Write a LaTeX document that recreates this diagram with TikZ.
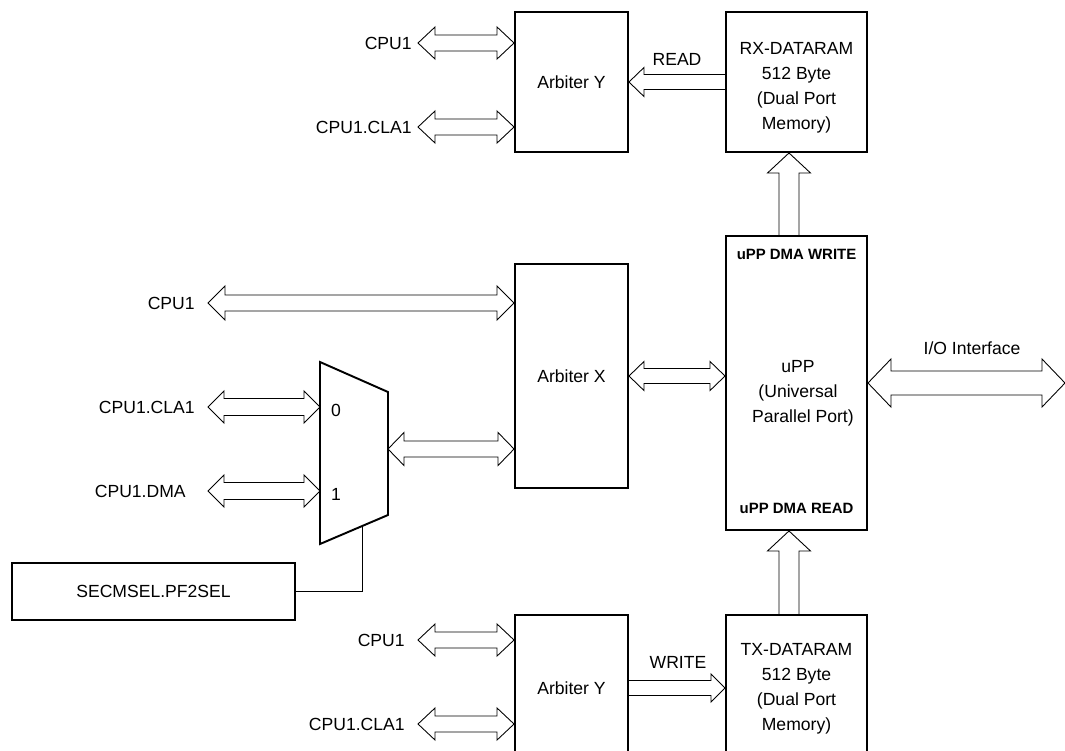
\documentclass[tikz,border=0pt]{standalone}
\usepackage{fontspec}
\setmainfont{Liberation Sans}
\usetikzlibrary{positioning,calc}
% hollow bus arrows: #1 from, #2 to, #3 half shaft, #4 half head, #5 head length
\newcommand{\bidir}[5]{\draw[fat] let \p1=(#1), \p2=(#2) in (\x1,\y1) -- ({\x1+#5},{\y1+#4}) -- ({\x1+#5},{\y1+#3}) -- ({\x2-#5},{\y1+#3}) -- ({\x2-#5},{\y1+#4}) -- (\x2,\y1) -- ({\x2-#5},{\y1-#4}) -- ({\x2-#5},{\y1-#3}) -- ({\x1+#5},{\y1-#3}) -- ({\x1+#5},{\y1-#4}) -- cycle;}
\newcommand{\onedir}[5]{\draw[fat] let \p1=(#1), \p2=(#2), \n1={ifthenelse(\x2>\x1,1,-1)} in (\x1,{\y1+#3}) -- ({\x2-(\n1)*(#5)},{\y1+#3}) -- ({\x2-(\n1)*(#5)},{\y1+#4}) -- (\x2,\y1) -- ({\x2-(\n1)*(#5)},{\y1-#4}) -- ({\x2-(\n1)*(#5)},{\y1-#3}) -- (\x1,{\y1-#3});}
\newcommand{\updir}[5]{\draw[fat] let \p1=(#1), \p2=(#2) in ({\x1-#3},\y1) -- ({\x1-#3},{\y2-#5}) -- ({\x1-#4},{\y2-#5}) -- (\x1,\y2) -- ({\x1+#4},{\y2-#5}) -- ({\x1+#3},{\y2-#5}) -- ({\x1+#3},\y1);}

\begin{document}
\begin{tikzpicture}[
  box/.style={draw,line width=1.1pt,align=center,inner sep=0pt,minimum width=2.26cm,font=\fontsize{10}{14.3}\selectfont},
  lbl/.style={inner sep=0pt,font=\fontsize{10}{14.3}\selectfont},
  dmalbl/.style={inner sep=0pt,font=\fontsize{8.5}{10}\selectfont\bfseries},
  fat/.style={draw,line width=.5pt,line join=miter}]
\useasboundingbox (0,0) rectangle (21.3,-15);
\clip (0,0) rectangle (21.3,-15);
% blocks
\node[box,minimum height=2.8cm] (arbYt) at (11.43,-1.64) {Arbiter Y};
\node[box,minimum width=2.82cm,minimum height=2.8cm] (rx) at (15.93,-1.64) {};
\node[lbl,align=center] (rxtxt) at (15.93,-1.76) {RX-DATARAM\\512 Byte\\(Dual Port\\Memory)};
\node[box,minimum width=2.82cm,minimum height=5.88cm] (upp) at (15.93,-7.66) {};
\node[lbl,align=center] (upptxt) at (15.96,-7.86) {uPP\\(Universal\\\ \ Parallel Port)};
\node[dmalbl,below=0.28cm of upp.north] (uppw) {uPP DMA WRITE};
\node[dmalbl,above=0.34cm of upp.south] (uppr) {uPP DMA READ};
\node[box,minimum height=4.48cm] (arbX) at (11.43,-7.52) {Arbiter X};
\node[box,minimum height=2.92cm] (arbYb) at (11.43,-13.76) {Arbiter Y};
\node[box,minimum width=2.82cm,minimum height=2.96cm] (tx) at (15.93,-13.78) {TX-DATARAM\\512 Byte\\(Dual Port\\Memory)};
\node[box,minimum width=5.66cm,minimum height=1.14cm] (sel) at (3.07,-11.83) {SECMSEL.PF2SEL};
% mux
\draw[line width=1.1pt] (6.4,-7.24) -- (7.76,-7.84) -- (7.76,-10.3) -- (6.4,-10.88) -- cycle;
\coordinate (mux0) at (6.4,-8.14);
\coordinate (mux1) at (6.4,-9.82);
\coordinate (muxout) at (7.76,-8.98);
\coordinate (muxsel) at (7.24,-10.52);
\node[lbl] (n0) at (6.72,-8.2) {0};
\node[lbl] (n1) at (6.72,-9.88) {1};
\draw[line width=.5pt] (muxsel) |- (sel.east);
% free ends
\coordinate (cpu1t) at (8.36,-0.86);
\coordinate (clat) at (8.36,-2.54);
\coordinate (cpu1x) at (4.16,-6.06);
\coordinate (clax) at (4.16,-8.14);
\coordinate (dmax) at (4.16,-9.82);
\coordinate (cpu1b) at (8.36,-12.8);
\coordinate (clab) at (8.36,-14.48);
\coordinate (io) at (21.3,-7.66);
\coordinate (vup) at (15.78,0);
\node[lbl,left=0.12cm of cpu1t] (lcpu1t) {CPU1};
\node[lbl,left=0.12cm of clat] (lclat) {CPU1.CLA1};
\node[lbl,left=0.26cm of cpu1x] (lcpu1x) {CPU1};
\node[lbl,left=0.26cm of clax] (lclax) {CPU1.CLA1};
\node[lbl,left=0.44cm of dmax] (ldmax) {CPU1.DMA};
\node[lbl,left=0.26cm of cpu1b] (lcpu1b) {CPU1};
\node[lbl,left=0.26cm of clab] (lclab) {CPU1.CLA1};
\node[lbl] (lread) at (13.54,-1.18) {READ};
\node[lbl] (lwrite) at (13.56,-13.24) {WRITE};
\node[lbl] (lio) at (19.44,-6.96) {I/O Interface};
% buses
\bidir{cpu1t}{cpu1t -| arbYt.west}{0.16cm}{0.32cm}{0.34cm}
\bidir{clat}{clat -| arbYt.west}{0.16cm}{0.32cm}{0.34cm}
\bidir{cpu1x}{cpu1x -| arbX.west}{0.16cm}{0.34cm}{0.34cm}
\bidir{clax}{mux0}{0.17cm}{0.32cm}{0.32cm}
\bidir{dmax}{mux1}{0.17cm}{0.32cm}{0.32cm}
\bidir{muxout}{muxout -| arbX.west}{0.16cm}{0.33cm}{0.32cm}
\bidir{arbX.east}{arbX.east -| upp.west}{0.15cm}{0.29cm}{0.3cm}
\bidir{upp.east}{io}{0.24cm}{0.48cm}{0.46cm}
\bidir{cpu1b}{cpu1b -| arbYb.west}{0.16cm}{0.32cm}{0.34cm}
\bidir{clab}{clab -| arbYb.west}{0.16cm}{0.32cm}{0.34cm}
\onedir{rx.west}{rx.west -| arbYt.east}{0.15cm}{0.29cm}{0.3cm}
\onedir{arbYb.east}{arbYb.east -| tx.west}{0.15cm}{0.28cm}{0.28cm}
\updir{vup |- upp.north}{vup |- rx.south}{0.2cm}{0.43cm}{0.4cm}
\updir{vup |- tx.north}{vup |- upp.south}{0.2cm}{0.43cm}{0.4cm}
\end{tikzpicture}
\end{document}
